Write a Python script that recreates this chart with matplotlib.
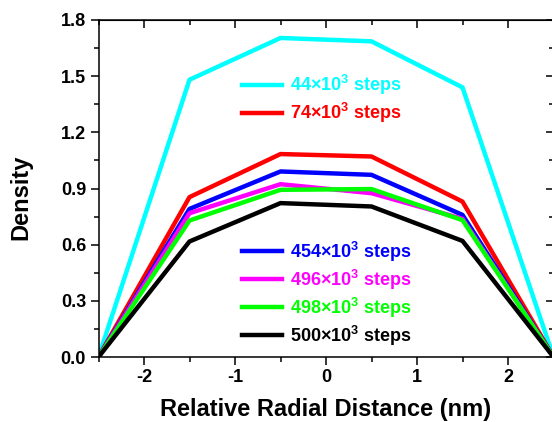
import numpy as np
import matplotlib
matplotlib.use("Agg")
import matplotlib.pyplot as plt
from matplotlib.ticker import MultipleLocator, FixedLocator, FormatStrFormatter

plt.rcParams['font.family'] = ['Liberation Sans', 'DejaVu Sans']
plt.rcParams['font.weight'] = 'bold'
plt.rcParams['axes.unicode_minus'] = False
plt.rcParams['mathtext.fontset'] = 'custom'
plt.rcParams['mathtext.rm'] = 'Liberation Sans'
plt.rcParams['mathtext.bf'] = 'Liberation Sans:bold'

# radial bins (nm) and density profiles at each sampling step
radius = [-2.5, -1.5, -0.5, 0.5, 1.5, 2.5]
steps = ['44', '74', '454', '496', '498', '500']
density_44k = [0.0, 1.481, 1.704, 1.686, 1.440, 0.0]
density_74k = [0.0, 0.854, 1.084, 1.071, 0.830, 0.0]
density_454k = [0.0, 0.791, 0.991, 0.973, 0.759, 0.0]
density_496k = [0.0, 0.768, 0.923, 0.875, 0.738, 0.0]
density_498k = [0.0, 0.729, 0.893, 0.897, 0.731, 0.0]
density_500k = [0.0, 0.617, 0.822, 0.804, 0.620, 0.0]

profiles = [density_44k, density_74k, density_454k,
            density_496k, density_498k, density_500k]
colors = ['#00FFFF', '#FF0000', '#0000FF', '#FF00FF', '#00FF00', '#000000']

fig = plt.figure(figsize=(5.52, 4.22), dpi=100)
ax = fig.add_axes([98.5 / 552, 1 - 357 / 422, 455 / 552, 337 / 422])

lines = []
for vals, c, s in zip(profiles, colors, steps):
    ln, = ax.plot(radius, vals, color=c, lw=3.2,
                  label=r'%s×10$^{\mathbf{3}}$ steps' % s)
    lines.append(ln)

ax.set_xlim(-2.5, 2.5)
ax.set_ylim(0, 1.8)
ax.xaxis.set_major_locator(FixedLocator([-2, -1, 0, 1, 2]))
ax.xaxis.set_minor_locator(MultipleLocator(0.5))
ax.yaxis.set_major_locator(MultipleLocator(0.3))
ax.yaxis.set_minor_locator(MultipleLocator(0.15))
ax.yaxis.set_major_formatter(FormatStrFormatter('%.1f'))

for sp in ax.spines.values():
    sp.set_linewidth(1.1)

ax.tick_params(which='both', width=1.1, labelsize=13, pad=3)
ax.tick_params(which='major', length=6)
ax.tick_params(which='minor', length=3.5)
ax.tick_params(axis='y', which='both', direction='out', left=True, right=False)
ax.tick_params(axis='x', which='both', direction='out', bottom=True, top=False)

# mirrored inward ticks on the top and right edges
tx = ax.secondary_xaxis('top')
tx.xaxis.set_major_locator(FixedLocator([-2, -1, 0, 1, 2]))
tx.xaxis.set_minor_locator(MultipleLocator(0.5))
tx.tick_params(which='both', direction='in', width=1.1, labeltop=False)
tx.tick_params(which='major', length=6)
tx.tick_params(which='minor', length=3.5)
ty = ax.secondary_yaxis('right')
ty.yaxis.set_major_locator(MultipleLocator(0.3))
ty.yaxis.set_minor_locator(MultipleLocator(0.15))
ty.tick_params(which='both', direction='in', width=1.1, labelright=False)
ty.tick_params(which='major', length=6)
ty.tick_params(which='minor', length=3.5)

ax.set_xlabel('Relative Radial Distance (nm)', fontsize=17, fontweight='bold',
              labelpad=8.5)
ax.set_ylabel('Density', fontsize=17, fontweight='bold')
ax.yaxis.set_label_coords(-0.145, 0.475)

leg_kw = dict(frameon=False, loc='center left', fontsize=13,
              handlelength=2.2, handletextpad=0.45, labelspacing=0.22,
              borderpad=0, borderaxespad=0, labelcolor='linecolor')
leg1 = ax.legend(handles=lines[:2], bbox_to_anchor=(0.315, 0.765), **leg_kw)
ax.add_artist(leg1)
ax.legend(handles=lines[2:], bbox_to_anchor=(0.315, 0.188), **leg_kw)

fig.savefig('out.png', dpi=100)
